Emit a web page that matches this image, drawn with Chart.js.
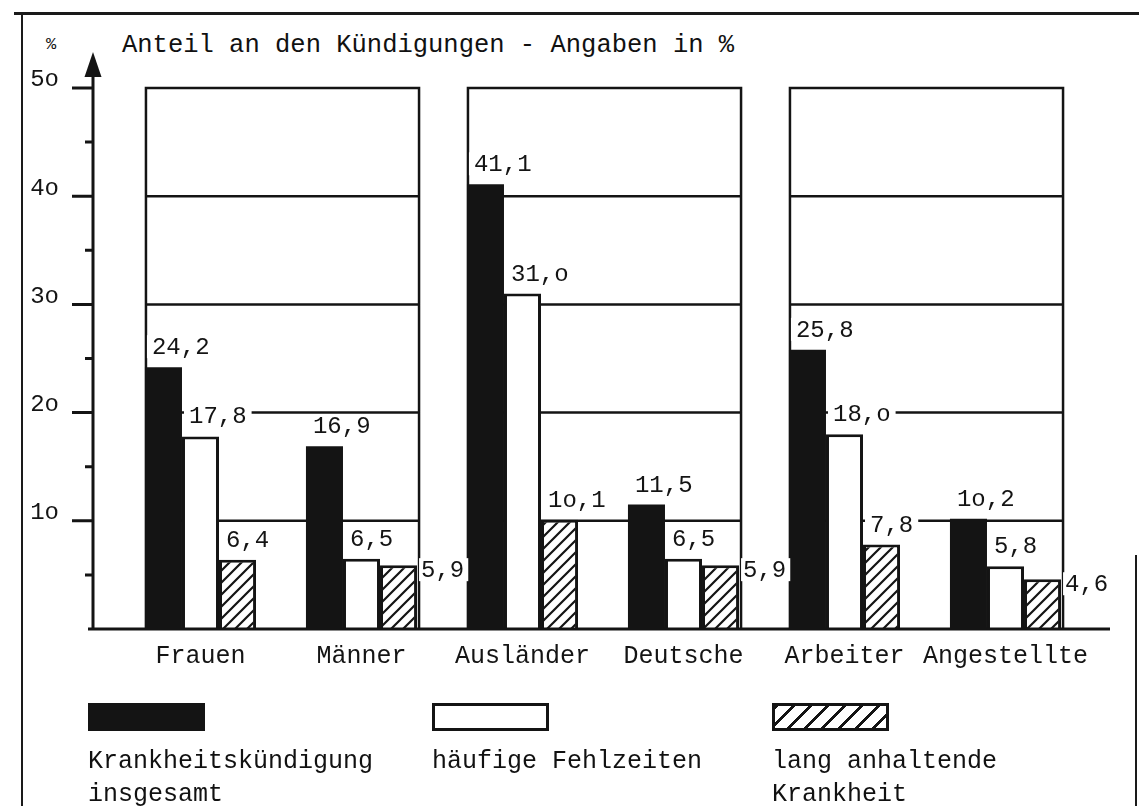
<!DOCTYPE html>
<html lang="de">
<head>
<meta charset="utf-8">
<title>Anteil an den Kündigungen</title>
<script src="https://cdn.jsdelivr.net/npm/chart.js@4.4.1/dist/chart.umd.min.js"></script>
<style>
  html, body { margin: 0; padding: 0; background: #fff; }
  body { width: 1139px; height: 806px; position: relative; overflow: hidden;
         font-family: "Liberation Mono", "DejaVu Sans Mono", monospace; color: #111; }
  canvas { position: absolute; left: 0; top: 0; }
  .line { position: absolute; background: #1a1a1a; }
  .title { position: absolute; left: 122px; top: 33px; font-size: 25.5px; line-height: 1; white-space: pre; }
  .unit { position: absolute; left: 46px; top: 36px; font-size: 17px; line-height: 1; }
  .key { position: absolute; top: 703px; }
  .swatch { width: 117px; height: 28px; box-sizing: border-box; }
  .key span { display: block; margin-top: 14px; font-size: 25px; line-height: 33px; white-space: pre-line; }
</style>
</head>
<body>
<div class="line" style="left:14px; top:12px; width:1125px; height:3px;"></div>
<div class="line" style="left:21px; top:12px; width:2px; height:794px;"></div>
<div class="line" style="left:1135px; top:555px; width:2px; height:251px;"></div>
<div class="unit">%</div>
<div class="title">Anteil an den Kündigungen - Angaben in %</div>
<canvas id="chart" width="1139" height="806"></canvas>
<div id="legend"></div>
<script>
const categories = ['Frauen', 'Männer', 'Ausländer', 'Deutsche', 'Arbeiter', 'Angestellte'];
const seriesNames = ['Krankheitskündigung\ninsgesamt', 'häufige Fehlzeiten', 'lang anhaltende\nKrankheit'];
const totalDismissals = [24.2, 16.9, 41.1, 11.5, 25.8, 10.2];
const frequentAbsence = [17.8, 6.5, 31.0, 6.5, 18.0, 5.8];
const longIllness = [6.4, 5.9, 10.1, 5.9, 7.8, 4.6];
const yTicks = [10, 20, 30, 40, 50];
const legendLeft = [88, 432, 772];

const INK = '#141414';
const FONT = '"Liberation Mono", "DejaVu Sans Mono", monospace';

// typewriter style: zero typed as a small "o", decimal comma
const typed = s => s.replace(/0/g, 'o');
const fmt = v => typed(v.toFixed(1).replace('.', ','));

const canvas = document.getElementById('chart');
const ctx = canvas.getContext('2d');

function makeHatch() {
    const c = document.createElement('canvas');
    c.width = 12; c.height = 12;
    const g = c.getContext('2d');
    g.fillStyle = '#fff';
    g.fillRect(0, 0, 12, 12);
    g.strokeStyle = INK;
    g.lineWidth = 2.2;
    g.beginPath();
    g.moveTo(-3, 15); g.lineTo(15, -3);
    g.moveTo(-3, 3); g.lineTo(3, -3);
    g.moveTo(9, 15); g.lineTo(15, 9);
    g.stroke();
    return ctx.createPattern(c, 'repeat');
}

// boxes behind each pair of categories, with their inner lines
const panels = {
    id: 'panels',
    beforeDatasetsDraw(chart) {
        const c = chart.ctx, y = chart.scales.y;
        const first = chart.getDatasetMeta(0).data, last = chart.getDatasetMeta(2).data;
        const top = y.getPixelForValue(y.max), bottom = y.getPixelForValue(0);
        c.save();
        c.strokeStyle = INK;
        c.lineWidth = 2.5;
        for (let i = 0; i + 1 < categories.length; i += 2) {
            const l = first[i].x - first[i].width / 2 + 1;
            const r = last[i + 1].x + last[i + 1].width / 2 + 2;
            c.beginPath();
            c.moveTo(l, bottom); c.lineTo(l, top); c.lineTo(r, top); c.lineTo(r, bottom);
            yTicks.filter(v => v < y.max).forEach(v => {
                const p = y.getPixelForValue(v);
                c.moveTo(l, p); c.lineTo(r, p);
            });
            c.stroke();
        }
        c.restore();
    },
    afterDatasetsDraw(chart) {
        const c = chart.ctx, y = chart.scales.y, area = chart.chartArea;
        c.save();
        // value labels
        c.font = '24px ' + FONT;
        c.textBaseline = 'alphabetic';
        chart.data.datasets.forEach((ds, di) => {
            chart.getDatasetMeta(di).data.forEach((bar, i) => {
                const txt = fmt(ds.data[i]);
                const w = c.measureText(txt).width;
                let x, yb;
                if (di === 2 && i % 2 === 1) {
                    x = bar.x + bar.width / 2 + 4;
                    yb = bar.y + 12;
                    c.fillStyle = '#fff';
                    c.fillRect(x - 2, yb - 19, w + 6, 23);
                } else {
                    x = bar.x - bar.width / 2 + 7;
                    yb = bar.y - 13;
                    c.fillStyle = '#fff';
                    c.fillRect(x - 5, yb - 19, w + 10, 23);
                }
                c.fillStyle = INK;
                c.fillText(txt, x, yb);
            });
        });

        // axis with arrow, ticks and baseline
        const ax = area.left - 27, base = y.getPixelForValue(0);
        c.strokeStyle = INK;
        c.fillStyle = INK;
        c.lineWidth = 3;
        c.beginPath();
        c.moveTo(ax, base); c.lineTo(ax, 70);
        c.moveTo(ax - 5, base); c.lineTo(area.right + 24, base);
        yTicks.forEach(v => {
            const p = y.getPixelForValue(v);
            c.moveTo(ax - 21, p); c.lineTo(ax, p);
            const h = y.getPixelForValue(v - 5);
            c.moveTo(ax - 8, h); c.lineTo(ax, h);
        });
        c.stroke();
        c.beginPath();
        c.moveTo(ax, 52); c.lineTo(ax - 8.5, 77); c.lineTo(ax + 8.5, 77);
        c.closePath();
        c.fill();
        c.restore();
    }
};

const chart = new Chart(ctx, {
    type: 'bar',
    data: {
        labels: categories,
        datasets: [
            { label: seriesNames[0].replace('\n', ' '), data: totalDismissals,
              backgroundColor: INK, borderWidth: 0 },
            { label: seriesNames[1].replace('\n', ' '), data: frequentAbsence,
              backgroundColor: '#fff', borderColor: INK, borderWidth: 3 },
            { label: seriesNames[2].replace('\n', ' '), data: longIllness,
              backgroundColor: makeHatch(), borderColor: INK, borderWidth: 3 }
        ]
    },
    options: {
        responsive: false,
        animation: false,
        layout: { padding: { left: 20, right: 53, top: 88, bottom: 127 } },
        datasets: { bar: { categoryPercentage: 0.69, barPercentage: 1 } },
        plugins: { legend: { display: false }, tooltip: { enabled: false } },
        scales: {
            x: {
                grid: { display: false, drawTicks: false },
                border: { display: false },
                ticks: { font: { family: FONT, size: 25 }, color: INK, padding: 12,
                         maxRotation: 0, minRotation: 0, autoSkip: false },
                afterFit: s => { s.height = 50; }
            },
            y: {
                min: 0,
                max: 50,
                grid: { display: false, drawTicks: false },
                border: { display: false },
                afterBuildTicks: s => { s.ticks = yTicks.map(v => ({ value: v })); },
                afterFit: s => { s.width = 100; },
                ticks: {
                    font: { family: FONT, size: 24 }, color: INK, padding: 61, labelOffset: -8,
                    callback: v => typed(String(v))
                }
            }
        }
    },
    plugins: [panels]
});

// legend: box on top, name below
const legend = document.getElementById('legend');
chart.data.datasets.forEach((ds, i) => {
    const key = document.createElement('div');
    key.className = 'key';
    key.style.left = legendLeft[i] + 'px';
    const sw = document.createElement('div');
    sw.className = 'swatch';
    if (i === 0) sw.style.background = INK;
    else sw.style.border = '3px solid ' + INK;
    if (i === 2) sw.style.background = 'repeating-linear-gradient(135deg, ' + INK + ' 0 2.5px, #fff 2.5px 12px)';
    const name = document.createElement('span');
    name.textContent = seriesNames[i];
    key.appendChild(sw);
    key.appendChild(name);
    legend.appendChild(key);
});
</script>
</body>
</html>
